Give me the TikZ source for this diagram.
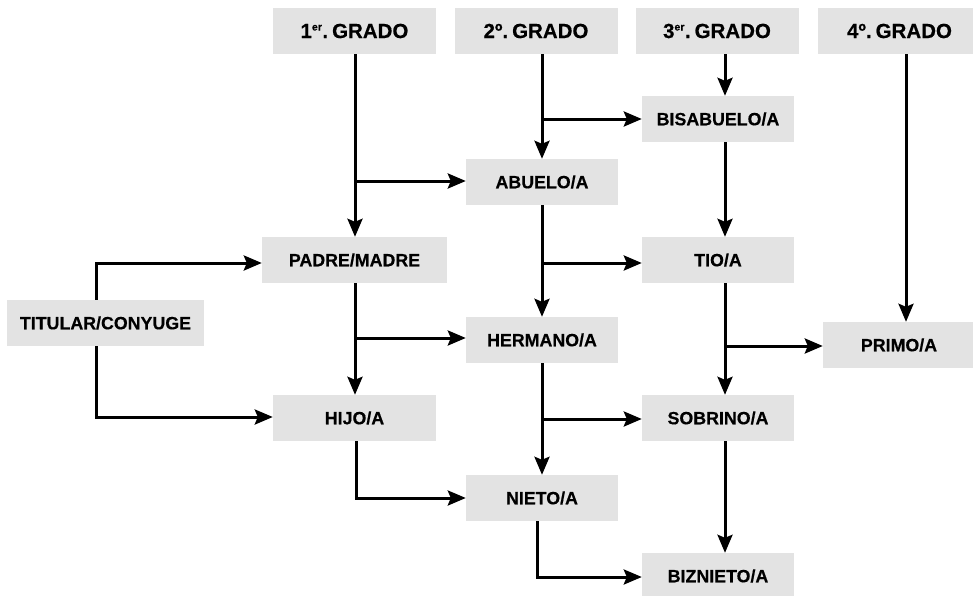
\documentclass[tikz,border=0pt]{standalone}
\usepackage{fontspec}
\setmainfont{Liberation Sans}[BoldFeatures={FakeBold=0.4}]
\usetikzlibrary{arrows.meta,calc}
\definecolor{boxgray}{HTML}{E3E3E3}
\newcommand{\supa}[1]{\textsuperscript{\fontsize{10.5}{10.5}\selectfont #1}}
\tikzset{
  box/.style={fill=boxgray, draw=none, inner sep=0pt, minimum height=46pt,
    font=\bfseries\fontsize{17.8}{18}\selectfont, text=black},
  hdr/.style={box, minimum width=163pt, font=\bfseries\fontsize{20.5}{21}\selectfont},
  arr/.style={line width=3pt, -{Stealth[length=18pt,width=15pt,inset=3pt]}},
}
\begin{document}
\begin{tikzpicture}[x=1pt,y=-1pt]
\useasboundingbox (0,0) rectangle (973,595);
% column lines
\coordinate (x1) at (355,0);
\coordinate (x2) at (542,0);
\coordinate (x3) at (725,0);
\coordinate (x4) at (906,0);
\coordinate (x0) at (96,0);
\coordinate (x5) at (356,0);
\coordinate (x6) at (537,0);
% headers
\node[hdr] (h1) at (354.5,31) {1\supa{er}.\hspace{4pt}GRADO};
\node[hdr] (h2) at (536,31) {2º.\hspace{4pt}GRADO};
\node[hdr] (h3) at (717,31) {3\supa{er}.\hspace{4pt}GRADO};
\node[hdr] (h4) at (899.5,31) {4º.\hspace{4pt}GRADO};
% nodes
\node[box, minimum width=152pt] (bis) at (718,119) {BISABUELO/A};
\node[box, minimum width=152pt] (abu) at (542,182) {ABUELO/A};
\node[box, minimum width=185pt] (pad) at (354.5,260) {PADRE/MADRE};
\node[box, minimum width=152pt] (tio) at (718,260) {TIO/A};
\node[box, minimum width=197pt] (tit) at (105.5,323) {TITULAR/CONYUGE};
\node[box, minimum width=152pt] (her) at (542,340) {HERMANO/A};
\node[box, minimum width=152pt] (pri) at (899,345) {PRIMO/A};
\node[box, minimum width=163pt] (hij) at (354.5,418) {HIJO/A};
\node[box, minimum width=152pt] (sob) at (718,418) {SOBRINO/A};
\node[box, minimum width=152pt] (nie) at (542,498) {NIETO/A};
\node[box, minimum width=152pt] (biz) at (718,576) {BIZNIETO/A};
% branch points
\coordinate (b1) at (355,181);
\coordinate (b2) at (542,119);
\coordinate (b3) at (542,263);
\coordinate (b4) at (355,338);
\coordinate (b5) at (725,346);
\coordinate (b6) at (542,419);
% connectors
\draw[arr] (h1.south -| x1) -- (pad.north -| x1);
\draw[arr] (b1) -- (abu.west |- b1);
\draw[arr] (h2.south -| x2) -- (abu.north -| x2);
\draw[arr] (b2) -- (bis.west |- b2);
\draw[arr] (h3.south -| x3) -- (bis.north -| x3);
\draw[arr] (h4.south -| x4) -- (pri.north -| x4);
\draw[arr] (bis.south -| x3) -- (tio.north -| x3);
\draw[arr] (abu.south -| x2) -- (her.north -| x2);
\draw[arr] (b3) -- (tio.west |- b3);
\draw[arr] (pad.south -| x1) -- (hij.north -| x1);
\draw[arr] (b4) -- (her.west |- b4);
\draw[arr] (tit.north -| x0) |- (pad.west |- 0,263);
\draw[arr] (tit.south -| x0) |- (hij.west |- 0,417);
\draw[arr] (tio.south -| x3) -- (sob.north -| x3);
\draw[arr] (b5) -- (pri.west |- b5);
\draw[arr] (her.south -| x2) -- (nie.north -| x2);
\draw[arr] (b6) -- (sob.west |- b6);
\draw[arr] (hij.south -| x5) |- (nie.west);
\draw[arr] (sob.south -| x3) -- (biz.north -| x3);
\draw[arr] (nie.south -| x6) |- (biz.west |- 0,577);
\end{tikzpicture}
\end{document}
